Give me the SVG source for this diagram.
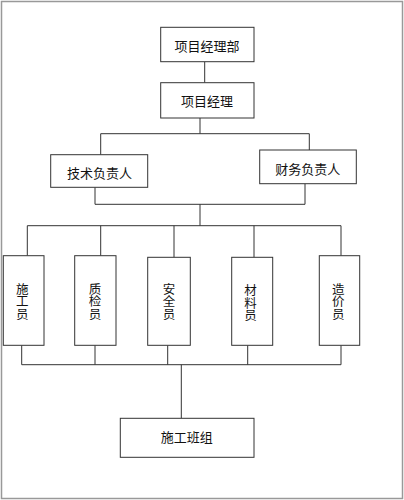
<svg xmlns="http://www.w3.org/2000/svg" width="404" height="500" viewBox="0 0 404 500">
<style>
.box{fill:#fff;stroke:#333;stroke-width:1}
.t{font-family:"Noto Sans CJK SC","Noto Sans",sans-serif;font-size:13px;fill:#111;text-anchor:middle;dominant-baseline:central}
.v{font-size:12.5px;writing-mode:vertical-rl;text-orientation:upright}
.c{fill:none;stroke:#333;stroke-width:1}
</style>
<rect x="1.5" y="1.5" width="401" height="497" fill="#fff" stroke="#999" stroke-width="1.5"/>
<g id="connectors">
<path class="c" d="M204.7 61.7V82.7"/>
<path class="c" d="M200 118V133.7M100.7 154.7V133.7H309.3V150"/>
<path class="c" d="M95 187.3V204.3H305V183.7M200 204.3V225.7"/>
<path class="c" d="M27.3 255.7V225.7H341V255.7M100.7 225.7V255.7M174 225.7V257.3M254 225.7V257.3"/>
<path class="c" d="M21.7 345.3V364.7M95 345.3V364.7M167.7 345.3V364.7M247.7 345.3V364.7M341 345.3V364.7"/>
<path class="c" d="M21.7 364.7H341M181.3 364.7V418.3" stroke-width="1.5" stroke="#111"/>
</g>
<g id="n1"><rect class="box" x="160.7" y="27.3" width="93.3" height="34.4"/><text class="t" x="207" y="45.5">项目经理部</text></g>
<g id="n2"><rect class="box" x="160.7" y="82.7" width="93.3" height="35.3"/><text class="t" x="207" y="100">项目经理</text></g>
<g id="n3"><rect class="box" x="50.7" y="154.7" width="97" height="32.6"/><text class="t" x="99.5" y="172.5">技术负责人</text></g>
<g id="n4"><rect class="box" x="259.7" y="150" width="96.6" height="33.7"/><text class="t" x="307.7" y="168.5">财务负责人</text></g>
<g id="n5"><rect class="box" x="3.3" y="255.7" width="40.7" height="89.6"/><text class="t v" x="22.3" y="301.5">施工员</text></g>
<g id="n6"><rect class="box" x="74.7" y="255.7" width="41.3" height="89.6"/><text class="t v" x="95" y="301.5">质检员</text></g>
<g id="n7"><rect class="box" x="147.7" y="257.3" width="42.6" height="88"/><text class="t v" x="169" y="301.5">安全员</text></g>
<g id="n8"><rect class="box" x="231.7" y="257.3" width="41" height="88"/><text class="t v" x="250.5" y="303">材料员</text></g>
<g id="n9"><rect class="box" x="319.3" y="255.7" width="40.4" height="89.6"/><text class="t v" x="338.3" y="301.5">造价员</text></g>
<g id="n10"><rect class="box" x="120.3" y="418.3" width="133.7" height="39"/><text class="t" x="186.7" y="436.5">施工班组</text></g>
</svg>
